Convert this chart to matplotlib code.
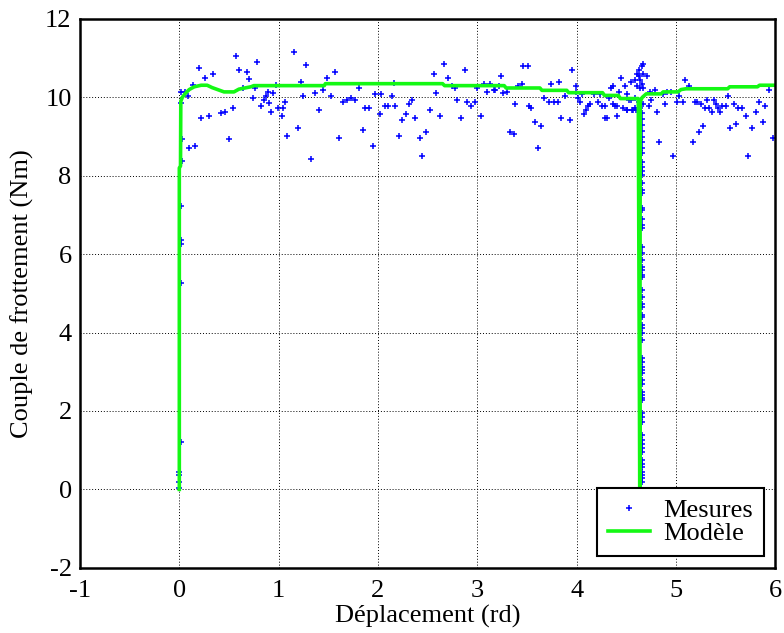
import numpy as np
import matplotlib.pyplot as plt

# mesures : zone de demarrage (x ~ 0)
x_dep = [0.0, -0.005, -0.005, -0.005, 0.015, 0.015, 0.015, 0.015, 0.015, 0.03, 0.025, 0.015,
         0.015, 0.055, 0.089]
y_dep = [0.03, 0.19, 0.38, 0.44, 1.21, 5.27, 6.26, 6.36, 7.23, 8.38, 8.94, 9.85,
         10.14, 10.14, 10.03]

# mesures : palier de glissement
x_pal = [0.139, 0.203, 0.26, 0.34, 0.223, 0.30, 0.42, 0.46, 0.54, 0.50, 0.566, 0.60, 0.68,
         0.70, 0.78, 0.646, 0.74, 0.76, 0.82, 0.85, 0.87, 0.89, 0.905, 0.92, 0.945, 0.97,
         0.99, 1.03, 1.045, 1.066, 1.08, 1.15, 1.19, 1.22, 1.25, 1.28, 1.33, 1.37, 1.41,
         1.45, 1.49, 0.10, 0.16,
         1.57, 1.53, 1.61, 1.65, 1.69, 1.73, 1.77, 1.81, 1.85, 1.87, 1.91, 1.95, 1.97,
         2.02, 2.03, 2.07, 2.10, 2.14, 2.16, 2.17, 2.21, 2.24, 2.28, 2.31, 2.34, 2.375,
         2.42, 2.44, 2.48, 2.52, 2.56, 2.58, 2.62, 2.66, 2.70, 2.74, 2.78, 2.80, 2.84,
         2.88, 2.90, 2.94, 2.98, 3.00, 3.04, 3.07,
         3.10, 3.13, 3.17, 3.18, 3.22, 3.24, 3.26, 3.30, 3.38, 3.41, 3.45, 3.46, 3.51,
         3.52, 3.54, 3.58, 3.64, 3.33, 3.37, 3.61, 3.67, 3.72, 3.77, 3.81, 3.74, 3.82,
         3.84, 3.88, 3.93, 3.95, 3.99, 3.99, 4.01, 4.03, 4.05, 4.07, 4.09, 4.11, 4.13,
         4.17, 4.21, 4.23, 4.25, 4.29, 4.29, 4.31, 4.33, 4.35, 4.37, 4.37, 4.39, 4.41,
         4.41, 4.43, 4.45, 4.47, 4.49, 4.51, 4.51, 4.53, 4.55, 4.55, 4.57, 4.59, 4.59,
         4.59, 4.61, 4.61, 4.63, 4.63, 4.63,
         4.51, 4.56, 4.60, 4.64, 4.64, 4.66, 4.67, 4.67, 4.71, 4.64, 4.66, 4.67, 4.67,
         4.74, 4.73, 4.75, 4.79, 4.81, 4.83, 4.87, 4.89, 4.91, 4.95, 4.97, 5.01, 5.03,
         5.07, 5.09, 5.13, 5.17, 5.19, 5.21, 5.23, 5.25, 5.27, 5.29, 5.31, 5.33, 5.36,
         5.38, 5.40, 5.42, 5.44, 5.46, 5.50, 5.52, 5.54, 5.58, 5.60, 5.62, 5.66, 5.70,
         5.72, 5.76, 5.80, 5.84, 5.88, 5.90, 5.94, 5.98]
y_pal = [10.31, 10.76, 10.50, 10.60, 9.48, 9.52, 9.59, 9.64, 9.73, 8.93, 11.06, 10.71, 10.65,
         10.46, 10.91, 10.25, 9.99, 10.23, 9.79, 9.93, 10.04, 10.14, 9.85, 9.63, 10.10, 10.31,
         9.74, 9.53, 9.74, 9.89, 9.02, 11.16, 9.23, 10.40, 10.04, 10.82, 8.42, 10.10, 9.69,
         10.19, 10.50, 8.72, 8.76,
         10.65, 10.04, 8.97, 9.89, 9.93, 9.98, 9.93, 10.25, 9.18, 9.73, 9.73, 8.76, 10.09,
         9.58, 10.09, 9.79, 9.79, 10.04, 10.36, 9.79, 9.02, 9.43, 9.58, 9.84, 9.93, 9.48,
         8.97, 8.51, 9.12, 9.69, 10.60, 10.10, 9.53, 10.86, 10.50, 10.30, 10.25, 9.94, 9.48,
         10.71, 9.89, 9.79, 9.89, 10.25, 9.53, 10.35,
         10.14, 10.35, 10.20, 10.19, 10.30, 10.55, 10.10, 10.14, 9.84, 10.30, 10.35, 10.81,
         10.81, 9.79, 9.74, 9.38, 9.28, 9.12, 9.07, 8.72, 9.99, 9.89, 9.89, 9.89, 10.35,
         10.40, 9.48, 10.04, 9.43, 10.71, 10.30, 10.14, 9.99, 9.89, 10.09, 9.58, 9.69, 9.79,
         9.84, 10.09, 9.89, 10.09, 9.79, 9.79, 9.48, 9.48, 9.99, 10.25, 10.30, 9.84, 9.79,
         9.79, 9.53, 10.14, 10.50, 9.74, 10.30, 9.69, 10.09, 9.94, 10.40, 9.94, 9.69, 10.45,
         9.99, 9.74, 10.60, 10.30, 10.71, 10.55, 9.89,
         9.69, 9.69, 9.69, 9.74, 10.25, 10.81, 10.84, 10.60, 10.55, 10.45, 10.35, 10.25, 9.84,
         10.14, 9.79, 9.94, 10.20, 9.63, 8.87, 10.09, 9.84, 10.14, 10.14, 8.51, 9.89, 10.04,
         9.89, 10.45, 10.30, 8.87, 9.89, 9.89, 9.12, 9.84, 9.28, 9.74, 9.94, 9.74, 9.63,
         9.94, 9.84, 9.74, 9.63, 9.79, 9.79, 10.04, 9.23, 9.84, 9.33, 9.74, 9.74, 9.53,
         8.51, 9.23, 9.63, 9.89, 9.38, 9.79, 10.20, 8.97]

# mesures : chute a l'arret (x ~ 4.65)
y_chute = [9.60, 9.45, 9.30, 9.15, 9.00, 8.85, 8.70, 8.59, 8.36, 8.23, 8.13, 8.02, 7.81,
           7.64, 7.55, 7.17, 7.13, 6.91, 6.74, 6.66, 6.19, 6.02, 5.85, 5.68, 5.59, 5.47,
           5.42, 5.08, 4.91, 4.74, 4.66, 4.45, 4.40, 4.19, 4.13, 3.98, 3.81, 3.34, 3.26,
           3.13, 3.04, 2.96, 2.79, 2.70, 2.49, 2.40, 2.32, 2.28, 1.94, 1.85, 1.73, 1.39,
           1.26, 1.17, 1.05, 0.96, 0.75, 0.66, 0.58, 0.45, 0.36, 0.28, 0.19]
x_chute = [4.66] * len(y_chute)

mes_x = x_dep + x_pal + x_chute
mes_y = y_dep + y_pal + y_chute

# modele
mod_x = [0.0, 0.0, 0.012, 0.015, 0.03, 0.06, 0.1, 0.15, 0.22, 0.28, 0.33, 0.45, 0.55,
         0.6, 0.72, 0.75, 1.46, 1.47, 2.65, 2.67, 3.27, 3.29, 3.63, 3.65, 3.9, 3.92,
         4.26, 4.28, 4.42, 4.44, 4.62, 4.635, 4.64, 4.66, 4.7, 4.85, 4.87, 5.02, 5.05,
         5.1, 5.52, 5.54, 5.82, 5.84, 6.0]
mod_y = [0.0, 8.2, 8.25, 9.9, 10.0, 10.1, 10.2, 10.27, 10.31, 10.31, 10.25, 10.14, 10.14,
         10.21, 10.27, 10.3, 10.3, 10.35, 10.35, 10.3, 10.3, 10.24, 10.24, 10.18, 10.18,
         10.12, 10.12, 10.05, 10.05, 9.97, 9.97, 0.0, 9.9, 10.0, 10.09, 10.09, 10.14,
         10.14, 10.2, 10.22, 10.22, 10.27, 10.27, 10.31, 10.31]

plt.rcParams['font.family'] = ['Liberation Serif', 'DejaVu Serif']
plt.rcParams['axes.unicode_minus'] = False

fig = plt.figure(figsize=(7.84, 6.33), dpi=100)
ax = fig.add_axes([0.102, 0.103, 0.887, 0.867])

ax.plot(mes_x, mes_y, '+', color='#0000ff', markersize=5, markeredgewidth=1.1, label='Mesures')
ax.plot(mod_x, mod_y, '-', color='#14f814', linewidth=2.6, label='Modèle')

ax.set_xlim(-1, 6)
ax.set_ylim(-2, 12)
ax.set_xticks(np.arange(-1, 7, 1))
ax.set_yticks(np.arange(-2, 13, 2))
ax.grid(True, color='black', linestyle=(0, (1, 2)), linewidth=0.7)
ax.tick_params(length=0, labelsize=19)
ax.tick_params(axis='x', pad=9)
ax.tick_params(axis='y', pad=6)
for s in ax.spines.values():
    s.set_linewidth(1.8)

ax.set_xlabel('Déplacement (rd)', fontsize=19, labelpad=2)
ax.set_ylabel('Couple de frottement (Nm)', fontsize=19, labelpad=8)

leg = ax.legend(loc='lower right', fontsize=19, fancybox=False, framealpha=1,
                edgecolor='black', borderaxespad=0.45, handlelength=1.6,
                handletextpad=0.5, borderpad=0.4, labelspacing=0.0)
leg.get_frame().set_linewidth(1.5)

plt.savefig('out.png', dpi=100)
